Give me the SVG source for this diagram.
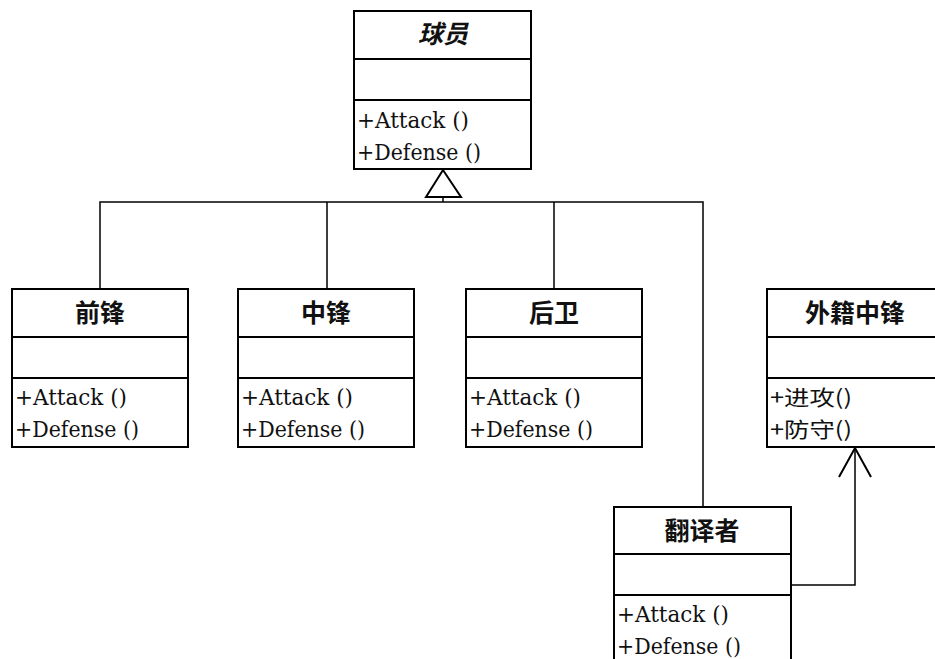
<svg xmlns="http://www.w3.org/2000/svg" width="935" height="659" viewBox="0 0 935 659">
<style>
.box{fill:#fff;stroke:#000;stroke-width:2}
.div{stroke:#000;stroke-width:2}
.name{font-family:"Liberation Sans","Noto Sans CJK SC",sans-serif;font-size:25px;font-weight:bold;text-anchor:middle;fill:#111}
.op{font-family:"DejaVu Serif","Noto Sans CJK SC",serif;font-size:22px;fill:#111}
.opc{font-family:"Noto Sans CJK SC",serif;font-size:21px;fill:#111}
.con{fill:none;stroke:#000;stroke-width:1.5}
</style>
<rect width="935" height="659" fill="#fff"/>
<g id="connectors">
<path class="con" d="M100,289 V202 H703 V507 M327,202 V289 M554,202 V289 M443,197 V202"/>
<polygon points="443,170 426,197 461,197" fill="#fff" stroke="#000" stroke-width="2"/>
<path class="con" d="M791,585 H855 V448"/>
<path d="M839,477 L855,448 L871,477" fill="none" stroke="#000" stroke-width="2"/>
</g>
<g id="player">
<rect class="box" x="354" y="11" width="177" height="158"/>
<line class="div" x1="354" y1="59" x2="531" y2="59"/>
<line class="div" x1="354" y1="100" x2="531" y2="100"/>
<text class="name" x="443" y="43" font-style="italic">球员</text>
<text class="op" x="357" y="128" textLength="112" lengthAdjust="spacingAndGlyphs">+Attack ()</text>
<text class="op" x="357" y="160" textLength="124" lengthAdjust="spacingAndGlyphs">+Defense ()</text>
</g>
<g id="forward">
<rect class="box" x="12" y="289" width="176" height="158"/>
<line class="div" x1="12" y1="337" x2="188" y2="337"/>
<line class="div" x1="12" y1="378" x2="188" y2="378"/>
<text class="name" x="100" y="322">前锋</text>
<text class="op" x="15" y="405" textLength="112" lengthAdjust="spacingAndGlyphs">+Attack ()</text>
<text class="op" x="15" y="437" textLength="124" lengthAdjust="spacingAndGlyphs">+Defense ()</text>
</g>
<g id="center">
<rect class="box" x="238" y="289" width="176" height="158"/>
<line class="div" x1="238" y1="337" x2="414" y2="337"/>
<line class="div" x1="238" y1="378" x2="414" y2="378"/>
<text class="name" x="326" y="322">中锋</text>
<text class="op" x="241" y="405" textLength="112" lengthAdjust="spacingAndGlyphs">+Attack ()</text>
<text class="op" x="241" y="437" textLength="124" lengthAdjust="spacingAndGlyphs">+Defense ()</text>
</g>
<g id="guard">
<rect class="box" x="466" y="289" width="176" height="158"/>
<line class="div" x1="466" y1="337" x2="642" y2="337"/>
<line class="div" x1="466" y1="378" x2="642" y2="378"/>
<text class="name" x="554" y="322">后卫</text>
<text class="op" x="469" y="405" textLength="112" lengthAdjust="spacingAndGlyphs">+Attack ()</text>
<text class="op" x="469" y="437" textLength="124" lengthAdjust="spacingAndGlyphs">+Defense ()</text>
</g>
<g id="foreign">
<rect class="box" x="767" y="289" width="176" height="158"/>
<line class="div" x1="767" y1="337" x2="943" y2="337"/>
<line class="div" x1="767" y1="378" x2="943" y2="378"/>
<text class="name" x="855" y="322">外籍中锋</text>
<text class="opc" x="770" y="405" textLength="82" lengthAdjust="spacingAndGlyphs">+进攻()</text>
<text class="opc" x="770" y="437" textLength="82" lengthAdjust="spacingAndGlyphs">+防守()</text>
</g>
<g id="translator">
<rect class="box" x="614" y="507" width="177" height="170"/>
<line class="div" x1="614" y1="554" x2="791" y2="554"/>
<line class="div" x1="614" y1="595" x2="791" y2="595"/>
<text class="name" x="702" y="540">翻译者</text>
<text class="op" x="617" y="622" textLength="112" lengthAdjust="spacingAndGlyphs">+Attack ()</text>
<text class="op" x="617" y="654" textLength="124" lengthAdjust="spacingAndGlyphs">+Defense ()</text>
</g>
</svg>
